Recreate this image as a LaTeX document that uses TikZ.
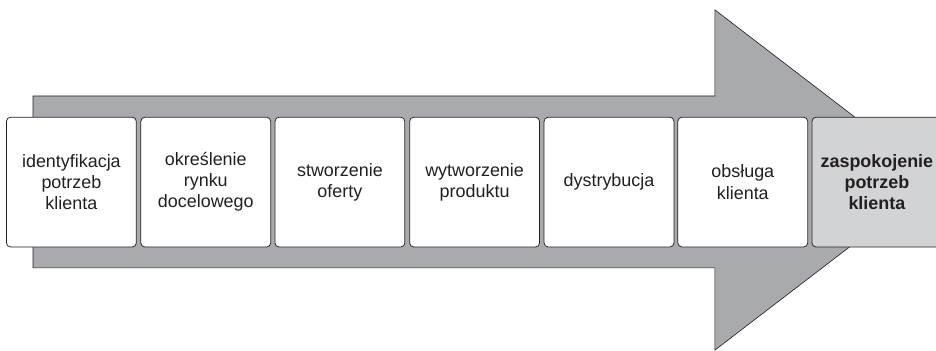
\documentclass[tikz,border=0pt]{standalone}
\usepackage{fontspec}
\setmainfont{Liberation Sans}
\usepackage{tikz}
\usetikzlibrary{positioning}
\definecolor{arrowgray}{RGB}{169,170,174}
\definecolor{goalgray}{RGB}{210,211,213}
\definecolor{ink}{RGB}{35,31,32}

\begin{document}
\begin{tikzpicture}[
  stage/.style={draw=ink,rectangle,rounded corners=4pt,line width=0.7pt,
                minimum width=4.33cm,minimum height=4.33cm,align=center,
                text=ink,fill=white,font=\fontsize{17}{20}\selectfont},
  goal/.style={stage,fill=goalgray,font=\fontsize{17}{20}\selectfont\bfseries},
  bigarrow/.style={draw=ink,fill=arrowgray,line width=0.6pt,line join=miter}
]
\useasboundingbox (0,0) rectangle (31.2,-11.7);

% the process arrow behind the stages
\coordinate (tail top) at (1.1,-3.2);
\coordinate (tail bot) at (1.1,-8.93);
\coordinate (tip) at (31.23,-6.0);
\draw[bigarrow] (tail top) -- (23.83,-3.2) -- (23.83,-0.33) -- (tip)
  -- (23.83,-11.67) -- (23.83,-8.93) -- (tail bot) -- cycle;

\node[stage] (s1) at (2.38,-6.07)  {identyfikacja\\potrzeb\\klienta};
\node[stage] (s2) at (6.86,-6.07)  {określenie\\rynku\\docelowego};
\node[stage] (s3) at (11.33,-6.07) {stworzenie\\oferty};
\node[stage] (s4) at (15.82,-6.07) {wytworzenie\\produktu};
\node[stage] (s5) at (20.30,-6.07) {dystrybucja};
\node[stage] (s6) at (24.76,-6.07) {obsługa\\klienta};
\node[goal]  (s7) at (29.23,-6.07) {zaspokojenie\\potrzeb\\klienta};
\end{tikzpicture}
\end{document}
